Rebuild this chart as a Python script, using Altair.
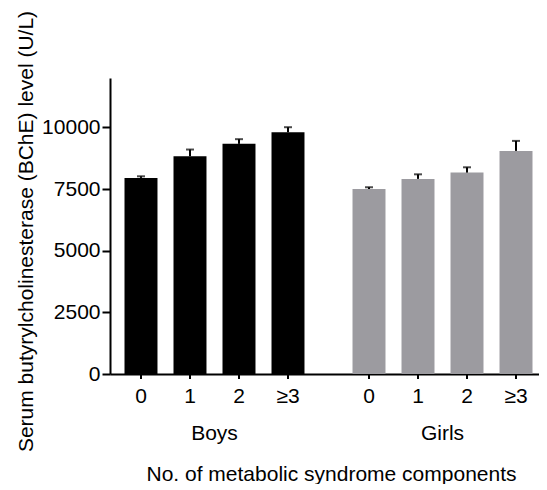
import altair as alt
import pandas as pd

groups = ["Boys", "Girls"]
components = ["0", "1", "2", "≥3"]
boys_mean = [7950, 8830, 9330, 9800]
boys_sem = [65, 270, 190, 205]
girls_mean = [7500, 7910, 8165, 9045]
girls_sem = [70, 185, 215, 405]
y_ticks = [0, 1250, 2500, 3750, 5000, 6250, 7500, 8750, 10000, 11250]

rows = []
for g, means, sems in [("Boys", boys_mean, boys_sem), ("Girls", girls_mean, girls_sem)]:
    for c, m, s in zip(components, means, sems):
        rows.append({"group": g, "comp": c, "mean": m, "upper": m + s})
df = pd.DataFrame(rows)

FONT = "Liberation Sans"
FS = 21
H = 296
W = 437

x_enc = alt.X(
    "group:N",
    sort=groups,
    scale=alt.Scale(paddingInner=0.0834, paddingOuter=0),
    axis=alt.Axis(
        title="No. of metabolic syndrome components",
        ticks=False,
        tickSize=0,
        labelPadding=65,
        labelBaseline="alphabetic",
        labelFont=FONT,
        labelFontSize=FS,
        labelColor="black",
        labelAngle=0,
        domainColor="black",
        domainWidth=2,
        titleFont=FONT,
        titleFontSize=FS,
        titleFontWeight="normal",
        titleColor="black",
        titleBaseline="alphabetic",
        titleX=221,
        titleY=106,
        titleAlign="center",
    ),
)
xo_enc = alt.XOffset(
    "comp:N", sort=components, scale=alt.Scale(paddingInner=0.327, paddingOuter=0.296)
)

base = alt.Chart(df)

bars = base.mark_bar().encode(
    x=x_enc,
    xOffset=xo_enc,
    y=alt.Y(
        "mean:Q",
        scale=alt.Scale(domain=[0, 12000], nice=False),
        axis=alt.Axis(
            title="Serum butyrylcholinesterase (BChE) level (U/L)",
            values=y_ticks,
            labelExpr="datum.value % 2500 === 0 ? datum.label : ''",
            format="d",
            grid=False,
            tickSize=alt.ExprRef(expr="datum.value % 2500 === 0 ? 8 : 5"),
            tickWidth=2,
            tickColor="black",
            domainColor="black",
            domainWidth=2,
            labelFont=FONT,
            labelFontSize=FS,
            labelColor="black",
            labelPadding=2,
            titleFont=FONT,
            titleFontSize=FS,
            titleFontWeight="normal",
            titleColor="black",
            titleAngle=270,
            titleBaseline="alphabetic",
            titleAlign="center",
            titleX=-78,
            titleY=153,
        ),
    ),
    color=alt.Color(
        "group:N",
        scale=alt.Scale(domain=groups, range=["#000000", "#9c9ba0"]),
        legend=None,
    ),
)

err = base.mark_rule(color="black", strokeWidth=2).encode(
    x=alt.X("group:N", sort=groups),
    xOffset=alt.XOffset("comp:N", sort=components),
    y="mean:Q",
    y2="upper:Q",
)

caps = base.mark_tick(color="black", thickness=2, size=8).encode(
    x=alt.X("group:N", sort=groups),
    xOffset=alt.XOffset("comp:N", sort=components),
    y="upper:Q",
)

xticks = base.mark_rule(color="black", strokeWidth=2).encode(
    x=alt.X("group:N", sort=groups),
    xOffset=alt.XOffset("comp:N", sort=components),
    y=alt.value(H),
    y2=alt.value(H + 5),
)

comp_labels = base.mark_text(
    font=FONT, fontSize=FS, color="black", baseline="alphabetic", align="center"
).encode(
    x=alt.X("group:N", sort=groups),
    xOffset=alt.XOffset("comp:N", sort=components),
    y=alt.value(325),
    text="comp:N",
)

chart = (
    alt.layer(bars, err, caps, xticks, comp_labels)
    .properties(
        width=W,
        height=H,
        autosize=alt.AutoSizeParams(type="none"),
        padding={"left": 102, "top": 70, "right": -8, "bottom": 110},
        background="white",
    )
    .configure_view(stroke=None)
)

chart.save("out.html", embed_options={"renderer": "svg", "actions": False})
